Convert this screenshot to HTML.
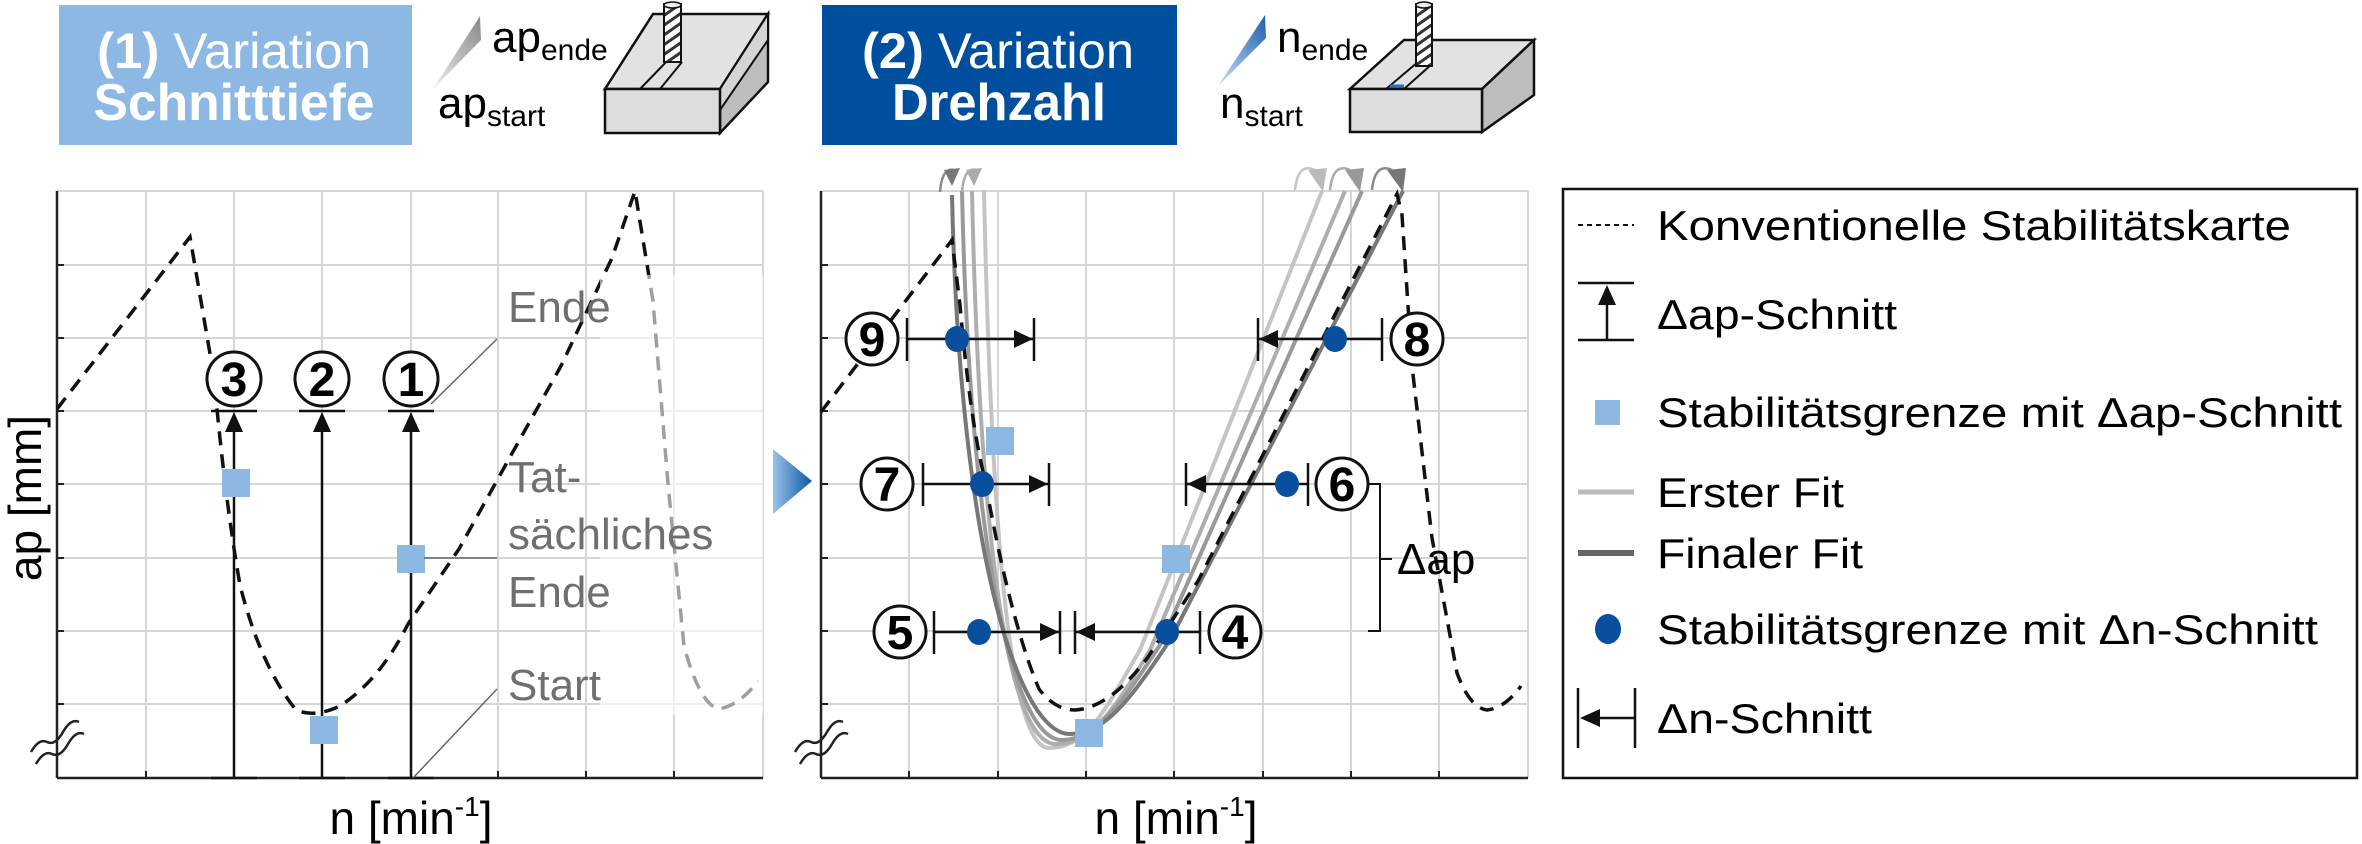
<!DOCTYPE html>
<html><head><meta charset="utf-8"><style>
html,body{margin:0;padding:0;background:#fff;}
svg{display:block;}
text{font-family:"Liberation Sans",sans-serif;}
</style></head><body>
<svg width="2362" height="844" viewBox="0 0 2362 844" xmlns="http://www.w3.org/2000/svg">
<defs>
<linearGradient id="gw" x1="0" y1="1" x2="1" y2="0"><stop offset="0" stop-color="#eee"/><stop offset="1" stop-color="#888"/></linearGradient>
<linearGradient id="bw" x1="0" y1="1" x2="1" y2="0"><stop offset="0" stop-color="#cfe0f3"/><stop offset="1" stop-color="#1a5fae"/></linearGradient>
<linearGradient id="ta" x1="0" y1="0" x2="1" y2="0"><stop offset="0" stop-color="#9cc3ea"/><stop offset="1" stop-color="#0b57a8"/></linearGradient>
<pattern id="hat" width="8" height="8" patternUnits="userSpaceOnUse" patternTransform="rotate(-35)"><rect width="8" height="8" fill="#fff"/><rect width="8" height="3" fill="#333"/></pattern>
</defs>

<rect x="59" y="5" width="353" height="140" fill="#8db8e3"/>
<text x="234" y="68" font-size="50" fill="#fff" text-anchor="middle" textLength="274" lengthAdjust="spacingAndGlyphs"><tspan font-weight="bold">(1)</tspan> Variation</text>
<text x="234" y="120" font-size="52" fill="#fff" font-weight="bold" text-anchor="middle" textLength="281" lengthAdjust="spacingAndGlyphs">Schnitttiefe</text>
<polygon points="433,89 480,16 481,40" fill="url(#gw)"/>
<text x="492" y="52" font-size="44" fill="#000">ap<tspan font-size="30" dy="8">ende</tspan></text>
<text x="438" y="118" font-size="44" fill="#000">ap<tspan font-size="30" dy="8">start</tspan></text>
<polygon points="605,89 720,89 768,14 653,14" fill="#e2e2e2" stroke="#111" stroke-width="2.5"/>
<polygon points="720,89 768,14 768,82 720,133" fill="#bdbdbd" stroke="#111" stroke-width="2.5"/>
<polygon points="720,89 768,14 768,40 720,110" fill="#d4d4d4" stroke="#111" stroke-width="2"/>
<rect x="605" y="89" width="115" height="44" fill="#dcdcdc" stroke="#111" stroke-width="2.5"/>
<line x1="640" y1="89" x2="670" y2="58" stroke="#111" stroke-width="2"/>
<line x1="660" y1="89" x2="682" y2="62" stroke="#111" stroke-width="2"/>
<rect x="664" y="4" width="17" height="58" fill="url(#hat)" stroke="#111" stroke-width="2"/>
<ellipse cx="672.5" cy="5" rx="8.5" ry="3" fill="#eee" stroke="#111" stroke-width="1.5"/>

<rect x="822" y="5" width="355" height="140" fill="#004f9f"/>
<text x="998" y="68" font-size="50" fill="#fff" text-anchor="middle" textLength="272" lengthAdjust="spacingAndGlyphs"><tspan font-weight="bold">(2)</tspan> Variation</text>
<text x="999" y="120" font-size="52" fill="#fff" font-weight="bold" text-anchor="middle" textLength="214" lengthAdjust="spacingAndGlyphs">Drehzahl</text>
<polygon points="1218,86 1265,15 1266,38" fill="url(#bw)"/>
<text x="1277" y="52" font-size="44" fill="#000">n<tspan font-size="30" dy="8">ende</tspan></text>
<text x="1220" y="118" font-size="44" fill="#000">n<tspan font-size="30" dy="8">start</tspan></text>
<polygon points="1350,89 1482,89 1534,40 1404,40" fill="#e2e2e2" stroke="#111" stroke-width="2.5"/>
<polygon points="1482,89 1534,40 1534,95 1482,132" fill="#bdbdbd" stroke="#111" stroke-width="2.5"/>
<rect x="1350" y="89" width="132" height="43" fill="#dcdcdc" stroke="#111" stroke-width="2.5"/>
<line x1="1386" y1="89" x2="1418" y2="62" stroke="#111" stroke-width="2"/>
<line x1="1404" y1="89" x2="1432" y2="64" stroke="#111" stroke-width="2"/>
<line x1="1390" y1="86" x2="1404" y2="86" stroke="#2a6fc0" stroke-width="3"/>
<rect x="1416" y="4" width="16" height="62" fill="url(#hat)" stroke="#111" stroke-width="2"/>
<ellipse cx="1424" cy="5" rx="8" ry="3" fill="#eee" stroke="#111" stroke-width="1.5"/>

<g stroke="#d6d6d6" stroke-width="2">
<line x1="146" y1="191" x2="146" y2="778"/><line x1="234" y1="191" x2="234" y2="778"/><line x1="322" y1="191" x2="322" y2="778"/><line x1="411" y1="191" x2="411" y2="778"/><line x1="498" y1="191" x2="498" y2="778"/><line x1="586" y1="191" x2="586" y2="778"/><line x1="674" y1="191" x2="674" y2="778"/><line x1="763" y1="191" x2="763" y2="778"/>
<line x1="57" y1="191" x2="763" y2="191"/><line x1="57" y1="265" x2="763" y2="265"/><line x1="57" y1="338" x2="763" y2="338"/><line x1="57" y1="411" x2="763" y2="411"/><line x1="57" y1="484" x2="763" y2="484"/><line x1="57" y1="558" x2="763" y2="558"/><line x1="57" y1="631" x2="763" y2="631"/><line x1="57" y1="704" x2="763" y2="704"/>
</g>
<g stroke="#222" stroke-width="2.5">
<line x1="57" y1="191" x2="57" y2="778"/><line x1="57" y1="778" x2="763" y2="778"/>
</g>
<g stroke="#222" stroke-width="2">
<line x1="57" y1="265" x2="64" y2="265"/><line x1="57" y1="338" x2="64" y2="338"/><line x1="57" y1="411" x2="64" y2="411"/><line x1="57" y1="484" x2="64" y2="484"/><line x1="57" y1="558" x2="64" y2="558"/><line x1="57" y1="631" x2="64" y2="631"/><line x1="57" y1="704" x2="64" y2="704"/>
<line x1="146" y1="778" x2="146" y2="771"/><line x1="498" y1="778" x2="498" y2="771"/><line x1="586" y1="778" x2="586" y2="771"/><line x1="674" y1="778" x2="674" y2="771"/>
</g>
<path d="M57,409 L190,237 L214,377 Q225,500 240,585 Q260,665 296,710 Q315,718 340,706 Q380,680 408,624 L459,549 L510,457 L561,366 L612,258 L635,191 L653,301 L668,484 L684,646 Q700,705 719,709 Q740,705 758,681" fill="none" stroke="#111" stroke-width="3.5" stroke-dasharray="14,9"/>
<rect x="600" y="275" width="163" height="440" fill="#fff" opacity="0.6"/>
<path d="M31,752 q8,-14 16,-10 t16,-10 t16,-10 M36,764 q8,-14 16,-10 t16,-10 t16,-10" fill="none" stroke="#222" stroke-width="2.5"/>
<g stroke="#111" stroke-width="2.5">
<line x1="234" y1="420" x2="234" y2="778"/><line x1="322" y1="420" x2="322" y2="778"/><line x1="411" y1="420" x2="411" y2="778"/>
<line x1="211" y1="411" x2="257" y2="411"/><line x1="299" y1="411" x2="345" y2="411"/><line x1="388" y1="411" x2="434" y2="411"/>
<line x1="211" y1="778" x2="257" y2="778"/><line x1="299" y1="778" x2="345" y2="778"/><line x1="388" y1="778" x2="434" y2="778"/>
</g>
<polygon points="234,412 225,432 243,432" fill="#111"/><polygon points="322,412 313,432 331,432" fill="#111"/><polygon points="411,412 402,432 420,432" fill="#111"/>
<g fill="#fff" stroke="#111" stroke-width="3">
<circle cx="234" cy="379" r="27"/><circle cx="322" cy="379" r="27"/><circle cx="411" cy="379" r="27"/>
</g>
<g font-size="48" font-weight="bold" text-anchor="middle" fill="#000">
<text x="234" y="396">3</text><text x="322" y="396">2</text><text x="411" y="396">1</text>
</g>
<g fill="#8db8e3"><rect x="222" y="469" width="28" height="28"/><rect x="310" y="716" width="28" height="28"/><rect x="397" y="545" width="28" height="28"/></g>
<g stroke="#666" stroke-width="1.5">
<line x1="431" y1="404" x2="497" y2="339"/><line x1="424" y1="558" x2="497" y2="558"/><line x1="413" y1="778" x2="497" y2="689"/>
</g>
<g font-size="44" fill="#6f6f6f">
<text x="508" y="322">Ende</text><text x="508" y="492">Tat-</text><text x="508" y="549">sächliches</text><text x="508" y="607">Ende</text><text x="508" y="700">Start</text>
</g>
<text transform="translate(41,498) rotate(-90)" font-size="46" text-anchor="middle" fill="#000">ap [mm]</text>
<text x="411" y="834" font-size="46" text-anchor="middle" fill="#000">n [min<tspan font-size="28" dy="-18">-1</tspan><tspan dy="18">]</tspan></text>

<polygon points="773,449 812,481 773,514" fill="url(#ta)"/>

<g stroke="#d6d6d6" stroke-width="2">
<line x1="909" y1="191" x2="909" y2="778"/><line x1="998" y1="191" x2="998" y2="778"/><line x1="1086" y1="191" x2="1086" y2="778"/><line x1="1174" y1="191" x2="1174" y2="778"/><line x1="1263" y1="191" x2="1263" y2="778"/><line x1="1351" y1="191" x2="1351" y2="778"/><line x1="1439" y1="191" x2="1439" y2="778"/><line x1="1528" y1="191" x2="1528" y2="778"/>
<line x1="821" y1="191" x2="1528" y2="191"/><line x1="821" y1="265" x2="1528" y2="265"/><line x1="821" y1="338" x2="1528" y2="338"/><line x1="821" y1="411" x2="1528" y2="411"/><line x1="821" y1="484" x2="1528" y2="484"/><line x1="821" y1="558" x2="1528" y2="558"/><line x1="821" y1="631" x2="1528" y2="631"/><line x1="821" y1="704" x2="1528" y2="704"/>
</g>
<g stroke="#222" stroke-width="2.5">
<line x1="821" y1="191" x2="821" y2="778"/><line x1="821" y1="778" x2="1528" y2="778"/>
</g>
<g stroke="#222" stroke-width="2">
<line x1="821" y1="265" x2="828" y2="265"/><line x1="821" y1="338" x2="828" y2="338"/><line x1="821" y1="411" x2="828" y2="411"/><line x1="821" y1="484" x2="828" y2="484"/><line x1="821" y1="558" x2="828" y2="558"/><line x1="821" y1="631" x2="828" y2="631"/><line x1="821" y1="704" x2="828" y2="704"/>
<line x1="909" y1="778" x2="909" y2="771"/><line x1="998" y1="778" x2="998" y2="771"/><line x1="1086" y1="778" x2="1086" y2="771"/><line x1="1174" y1="778" x2="1174" y2="771"/><line x1="1263" y1="778" x2="1263" y2="771"/><line x1="1351" y1="778" x2="1351" y2="771"/><line x1="1439" y1="778" x2="1439" y2="771"/>
</g>
<path d="M795,752 q8,-14 16,-10 t16,-10 t16,-10 M800,764 q8,-14 16,-10 t16,-10 t16,-10" fill="none" stroke="#222" stroke-width="2.5"/>
<g fill="none" stroke-width="4">
<path d="M984,191 C992,560 1012,748 1049,748 C1090,748 1110,700 1140,650 L1322,191" stroke="#c4c4c4"/>
<path d="M972,191 C980,560 1010,744 1056,744 C1095,744 1120,700 1150,650 L1345,191" stroke="#aeaeae"/>
<path d="M962,191 C970,560 1015,740 1062,740 C1100,740 1130,690 1160,645 L1362,191" stroke="#999"/>
<path d="M952,195 C960,560 1020,734 1070,734 C1105,734 1130,700 1170,640 L1403,191" stroke="#777"/>
</g>
<path d="M821,412 L952,240 L960,305 Q970,420 985,480 Q1010,620 1039,689 Q1055,710 1075,710 Q1110,708 1148,657 L1198,581 L1397,194 L1402,215 L1412,366 L1432,538 L1457,673 Q1470,708 1487,710 Q1505,708 1521,686" fill="none" stroke="#111" stroke-width="3.5" stroke-dasharray="14,9"/>
<g fill="none" stroke-width="2.5">
<path d="M940,192 q2,-25 14,-22" stroke="#888"/><path d="M962,192 q2,-25 14,-22" stroke="#aaa"/>
<path d="M1295,190 q3,-28 20,-20" stroke="#c4c4c4"/><path d="M1330,190 q3,-28 20,-20" stroke="#aaa"/><path d="M1372,190 q3,-28 20,-20" stroke="#888"/>
</g>
<polygon points="944,170 960,168 952,186" fill="#777"/><polygon points="966,170 982,168 974,186" fill="#aaa"/>
<polygon points="1308,170 1327,168 1323,192" fill="#bbb"/><polygon points="1345,170 1364,168 1360,192" fill="#999"/><polygon points="1387,170 1406,168 1403,192" fill="#777"/>
<g stroke="#111" stroke-width="2.5">
<line x1="907" y1="339" x2="1034" y2="339"/><line x1="907" y1="318" x2="907" y2="361"/><line x1="1034" y1="318" x2="1034" y2="361"/>
<line x1="923" y1="484" x2="1049" y2="484"/><line x1="923" y1="463" x2="923" y2="506"/><line x1="1049" y1="463" x2="1049" y2="506"/>
<line x1="934" y1="632" x2="1060" y2="632"/><line x1="934" y1="611" x2="934" y2="654"/><line x1="1060" y1="611" x2="1060" y2="654"/>
<line x1="1075" y1="632" x2="1200" y2="632"/><line x1="1075" y1="611" x2="1075" y2="654"/><line x1="1200" y1="611" x2="1200" y2="654"/>
<line x1="1186" y1="484" x2="1308" y2="484"/><line x1="1186" y1="463" x2="1186" y2="506"/><line x1="1308" y1="463" x2="1308" y2="506"/>
<line x1="1258" y1="339" x2="1382" y2="339"/><line x1="1258" y1="318" x2="1258" y2="361"/><line x1="1382" y1="318" x2="1382" y2="361"/>
</g>
<g fill="#111">
<polygon points="1033,339 1014,330 1014,348"/><polygon points="1048,484 1029,475 1029,493"/><polygon points="1059,632 1040,623 1040,641"/>
<polygon points="1076,632 1095,623 1095,641"/><polygon points="1187,484 1206,475 1206,493"/><polygon points="1259,339 1278,330 1278,348"/>
</g>
<g fill="#0a4f9e">
<ellipse cx="957" cy="339" rx="12" ry="13"/><ellipse cx="982" cy="484" rx="12" ry="13"/><ellipse cx="979" cy="632" rx="12" ry="13"/>
<ellipse cx="1167" cy="632" rx="12" ry="13"/><ellipse cx="1287" cy="484" rx="12" ry="13"/><ellipse cx="1335" cy="339" rx="12" ry="13"/>
</g>
<g fill="#8db8e3"><rect x="986" y="427" width="28" height="28"/><rect x="1162" y="545" width="28" height="28"/><rect x="1075" y="719" width="28" height="28"/></g>
<g fill="#fff" stroke="#111" stroke-width="3">
<circle cx="872" cy="339" r="26"/><circle cx="887" cy="484" r="26"/><circle cx="900" cy="632" r="26"/>
<circle cx="1235" cy="632" r="26"/><circle cx="1342" cy="484" r="26"/><circle cx="1417" cy="339" r="26"/>
</g>
<g font-size="48" font-weight="bold" text-anchor="middle" fill="#000">
<text x="872" y="356">9</text><text x="887" y="501">7</text><text x="900" y="649">5</text><text x="1235" y="649">4</text><text x="1342" y="501">6</text><text x="1417" y="356">8</text>
</g>
<path d="M1368,484 L1380,484 L1380,631 L1368,631 M1380,559 L1392,559" fill="none" stroke="#111" stroke-width="2"/>
<text x="1397" y="574" font-size="44" fill="#000">Δap</text>
<text x="1176" y="834" font-size="46" text-anchor="middle" fill="#000">n [min<tspan font-size="28" dy="-18">-1</tspan><tspan dy="18">]</tspan></text>

<rect x="1563" y="189" width="794" height="589" fill="#fff" stroke="#111" stroke-width="2.5"/>
<line x1="1578" y1="225" x2="1634" y2="225" stroke="#111" stroke-width="2" stroke-dasharray="5,4"/>
<g stroke="#111" stroke-width="2.5">
<line x1="1578" y1="283" x2="1634" y2="283"/><line x1="1578" y1="340" x2="1634" y2="340"/><line x1="1607" y1="295" x2="1607" y2="340"/>
<line x1="1578" y1="688" x2="1578" y2="748"/><line x1="1635" y1="688" x2="1635" y2="748"/><line x1="1590" y1="718" x2="1635" y2="718"/>
</g>
<polygon points="1607,285 1598,305 1616,305" fill="#111"/>
<polygon points="1580,718 1600,709 1600,727" fill="#111"/>
<rect x="1595" y="400" width="25" height="25" fill="#8db8e3"/>
<line x1="1578" y1="492" x2="1634" y2="492" stroke="#bbb" stroke-width="5"/>
<line x1="1578" y1="553" x2="1634" y2="553" stroke="#666" stroke-width="6"/>
<ellipse cx="1608" cy="629" rx="13" ry="15" fill="#0a4f9e"/>
<g font-size="42" fill="#000">
<text x="1657" y="240" textLength="634" lengthAdjust="spacingAndGlyphs">Konventionelle Stabilitätskarte</text>
<text x="1657" y="329" textLength="240" lengthAdjust="spacingAndGlyphs">Δap-Schnitt</text>
<text x="1657" y="427" textLength="685" lengthAdjust="spacingAndGlyphs">Stabilitätsgrenze mit Δap-Schnitt</text>
<text x="1657" y="507" textLength="187" lengthAdjust="spacingAndGlyphs">Erster Fit</text>
<text x="1657" y="568" textLength="206" lengthAdjust="spacingAndGlyphs">Finaler Fit</text>
<text x="1657" y="644" textLength="661" lengthAdjust="spacingAndGlyphs">Stabilitätsgrenze mit Δn-Schnitt</text>
<text x="1657" y="733" textLength="215" lengthAdjust="spacingAndGlyphs">Δn-Schnitt</text>
</g>
</svg>
</body></html>
